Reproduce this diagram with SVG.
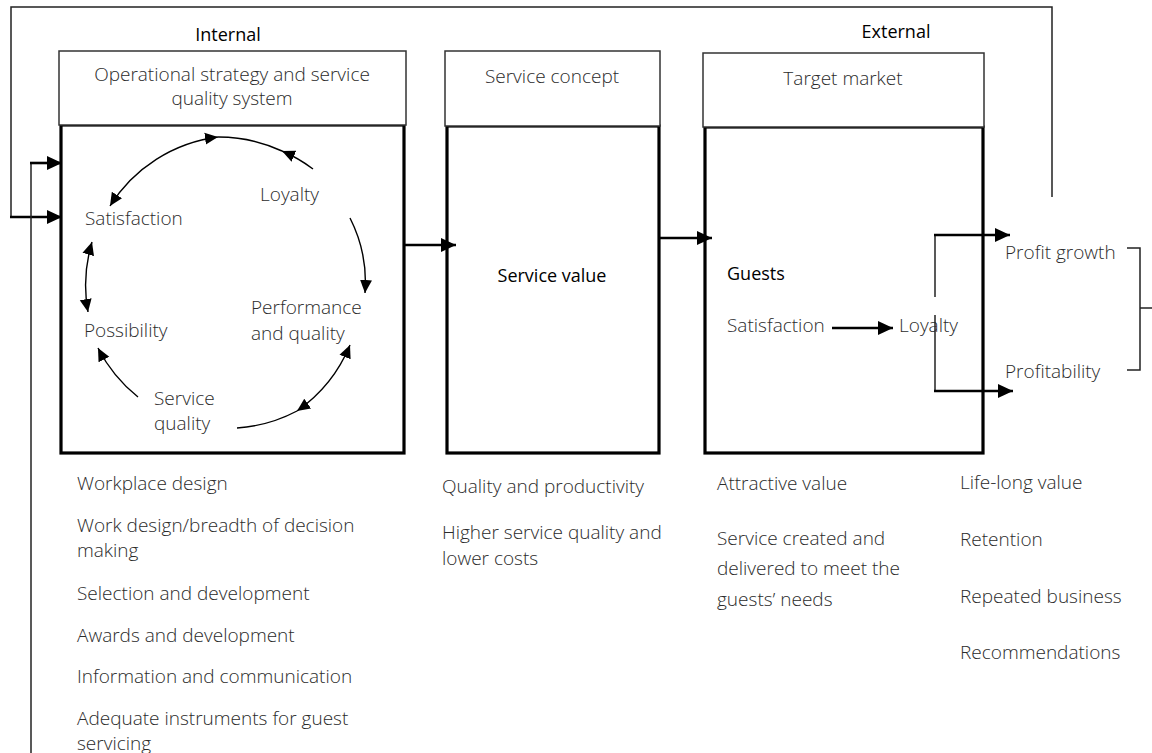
<svg xmlns="http://www.w3.org/2000/svg" width="1152" height="753" viewBox="0 0 1152 753">
  <style>
    .t { font-family: "Open Sans", "Liberation Sans", sans-serif; font-size: 19px; font-weight: 300; fill: #2b2b2b; }
    .b { font-family: "Open Sans", "Liberation Sans", sans-serif; font-size: 18px; font-weight: 400; fill: #000; }
    .hdr { fill: #fff; stroke: #333; stroke-width: 1.5; }
    .body { fill: #fff; stroke: #000; stroke-width: 3.2; }
    .thin { fill: none; stroke: #222; stroke-width: 1.5; }
    .thick { fill: none; stroke: #000; stroke-width: 2.6; }
    .arc { fill: none; stroke: #000; stroke-width: 1.4; }
  </style>
  <defs>
    <marker id="arr" markerUnits="userSpaceOnUse" markerWidth="16" markerHeight="16" refX="15" refY="8" orient="auto-start-reverse">
      <path d="M0,1 L15,8 L0,15 z" fill="#000"/>
    </marker>
    <marker id="arrS" markerUnits="userSpaceOnUse" markerWidth="14" markerHeight="14" refX="13" refY="6.5" orient="auto-start-reverse">
      <path d="M0,0.5 L13,6.5 L0,12.5 z" fill="#000"/>
    </marker>
  </defs>

  <rect width="1152" height="753" fill="#fff"/>

  <!-- section labels -->
  <text class="b" x="228" y="41" text-anchor="middle">Internal</text>
  <text class="b" x="896" y="38" text-anchor="middle">External</text>

  <!-- operational strategy block -->
  <g id="node-operational">
    <rect class="body" x="61" y="125" width="343" height="328"/>
    <rect class="hdr" x="59" y="51" width="347" height="74"/>
    <text class="t" x="232" y="81" text-anchor="middle">Operational strategy and service</text>
    <text class="t" x="232" y="105" text-anchor="middle">quality system</text>
    <text class="t" x="260" y="201">Loyalty</text>
    <text class="t" x="85" y="225">Satisfaction</text>
    <text class="t" x="251" y="314">Performance</text>
    <text class="t" x="251" y="340">and quality</text>
    <text class="t" x="84" y="337">Possibility</text>
    <text class="t" x="154" y="405">Service</text>
    <text class="t" x="154" y="430">quality</text>
  </g>

  <!-- service concept block -->
  <g id="node-service-concept">
    <rect class="body" x="447" y="126" width="212" height="327"/>
    <rect class="hdr" x="445" y="51" width="215" height="75"/>
    <text class="t" x="552" y="83" text-anchor="middle">Service concept</text>
    <text class="b" x="552" y="282" text-anchor="middle">Service value</text>
  </g>

  <!-- target market block -->
  <g id="node-target-market">
    <rect class="body" x="705" y="127" width="278" height="326"/>
    <rect class="hdr" x="703" y="53" width="281" height="74"/>
    <text class="t" x="843" y="85" text-anchor="middle">Target market</text>
    <text class="b" x="727" y="280">Guests</text>
    <text class="t" x="727" y="332">Satisfaction</text>
    <text class="t" x="899" y="332">Loyalty</text>
  </g>

  <!-- outcomes -->
  <g id="node-outcomes">
    <text class="t" x="1005" y="259">Profit growth</text>
    <text class="t" x="1005" y="378">Profitability</text>
  </g>

  <!-- lists under each block -->
  <g id="node-internal-list">
    <text class="t" x="77" y="490">Workplace design</text>
    <text class="t" x="77" y="532">Work design/breadth of decision</text>
    <text class="t" x="77" y="557">making</text>
    <text class="t" x="77" y="600">Selection and development</text>
    <text class="t" x="77" y="642">Awards and development</text>
    <text class="t" x="77" y="683">Information and communication</text>
    <text class="t" x="77" y="725">Adequate instruments for guest</text>
    <text class="t" x="77" y="750">servicing</text>
  </g>
  <g id="node-concept-list">
    <text class="t" x="442" y="493">Quality and productivity</text>
    <text class="t" x="442" y="539">Higher service quality and</text>
    <text class="t" x="442" y="565">lower costs</text>
  </g>
  <g id="node-market-list">
    <text class="t" x="717" y="490">Attractive value</text>
    <text class="t" x="717" y="545">Service created and</text>
    <text class="t" x="717" y="575">delivered to meet the</text>
    <text class="t" x="717" y="606">guests’ needs</text>
  </g>
  <g id="node-value-list">
    <text class="t" x="960" y="489">Life-long value</text>
    <text class="t" x="960" y="546">Retention</text>
    <text class="t" x="960" y="603">Repeated business</text>
    <text class="t" x="960" y="659">Recommendations</text>
  </g>

  <g id="connectors">
    <!-- feedback loops -->
    <polyline class="thin" points="1052,197 1052,7 11,7 11,217"/>
    <line class="thick" x1="10" y1="217" x2="62" y2="217" marker-end="url(#arr)"/>
    <line class="thin" x1="31" y1="753" x2="31" y2="163"/>
    <line class="thick" x1="30" y1="163" x2="62" y2="163" marker-end="url(#arr)"/>

    <!-- chain between blocks -->
    <line class="thick" x1="404" y1="245" x2="456" y2="245" marker-end="url(#arr)"/>
    <line class="thick" x1="659" y1="238" x2="712" y2="238" marker-end="url(#arr)"/>
    <line class="thick" x1="832" y1="328" x2="893" y2="328" marker-end="url(#arr)"/>

    <!-- loyalty split -->
    <polyline class="thin" points="935,297 935,235"/>
    <line class="thick" x1="934" y1="235" x2="1010" y2="235" marker-end="url(#arr)"/>
    <polyline class="thin" points="935,315 935,391"/>
    <line class="thick" x1="934" y1="391" x2="1013" y2="391" marker-end="url(#arr)"/>

    <!-- bracket -->
    <path class="thin" d="M1127,248 H1140 V370 H1127 M1140,308 H1152"/>

    <!-- service cycle -->
    <path class="arc" d="M110,206 A150,150 0 0 1 218,137" marker-start="url(#arrS)" marker-end="url(#arrS)"/>
    <path class="arc" d="M313,169 A150,150 0 0 0 282,151" marker-end="url(#arrS)"/>
    <path class="arc" d="M282,151 A150,150 0 0 0 218,137"/>
    <path class="arc" d="M350,218 A142,142 0 0 1 365,293" marker-end="url(#arrS)"/>
    <path class="arc" d="M297,411 A150,150 0 0 0 350,345" marker-start="url(#arrS)" marker-end="url(#arrS)"/>
    <path class="arc" d="M237,428 A150,150 0 0 0 297,411"/>
    <path class="arc" d="M138,397 A150,150 0 0 1 98,348" marker-end="url(#arrS)"/>
    <path class="arc" d="M92,242 A150,150 0 0 0 88,312" marker-start="url(#arrS)" marker-end="url(#arrS)"/>
  </g>
</svg>
